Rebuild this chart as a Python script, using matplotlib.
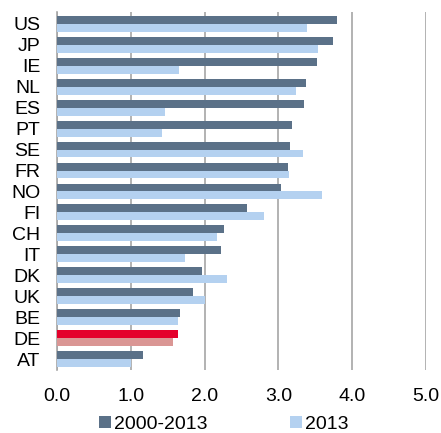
import matplotlib.pyplot as plt
import numpy as np

plt.rcParams['font.family'] = ['Liberation Sans', 'DejaVu Sans']

countries = ["US", "JP", "IE", "NL", "ES", "PT", "SE", "FR", "NO",
             "FI", "CH", "IT", "DK", "UK", "BE", "DE", "AT"]
avg_2000_2013 = [3.79, 3.74, 3.53, 3.38, 3.35, 3.19, 3.16, 3.13, 3.04,
                 2.58, 2.27, 2.22, 1.96, 1.85, 1.67, 1.64, 1.17]
val_2013 = [3.39, 3.54, 1.65, 3.24, 1.47, 1.43, 3.33, 3.15, 3.59,
            2.81, 2.17, 1.73, 2.31, 2.00, 1.64, 1.57, 1.01]

dark = "#5b7188"
light = "#b4d1f0"
hl_dark = "#e4002b"
hl_light = "#da9694"

fig = plt.figure(figsize=(4.41, 4.33), dpi=100)
ax = fig.add_axes([0.129, 0.146, 0.837, 0.826])

y = np.arange(len(countries))
h = 0.38
c1 = [hl_dark if c == "DE" else dark for c in countries]
c2 = [hl_light if c == "DE" else light for c in countries]
ax.barh(y - h / 2, avg_2000_2013, height=h, color=c1, label="2000-2013", zorder=3)
ax.barh(y + h / 2, val_2013, height=h, color=c2, label="2013", zorder=3)

ax.set_ylim(len(countries) - 0.5, -0.55)
ax.set_xlim(0, 5)
ax.set_xticks(np.arange(0, 5.1, 1.0))
ax.set_xticklabels([f"{v:.1f}" for v in np.arange(0, 5.1, 1.0)])
ax.set_yticks(y)
ax.set_yticklabels(countries)
ax.tick_params(axis='both', length=0, labelsize=14, colors="#000000")
ax.tick_params(axis='x', pad=13)
ax.tick_params(axis='y', pad=12)

ax.grid(axis='x', color="#a6a6a6", linewidth=1.2, zorder=0)
for s in ["top", "right", "bottom"]:
    ax.spines[s].set_visible(False)
ax.spines["left"].set_color("#a6a6a6")
ax.spines["left"].set_linewidth(1.2)

ax.legend(loc="center", bbox_to_anchor=(0.452, -0.152), ncol=2, frameon=False,
          fontsize=14, handlelength=0.6, handleheight=0.6, handletextpad=0.15,
          columnspacing=4.25, borderaxespad=0, borderpad=0)

fig.savefig("out.png", dpi=100)
